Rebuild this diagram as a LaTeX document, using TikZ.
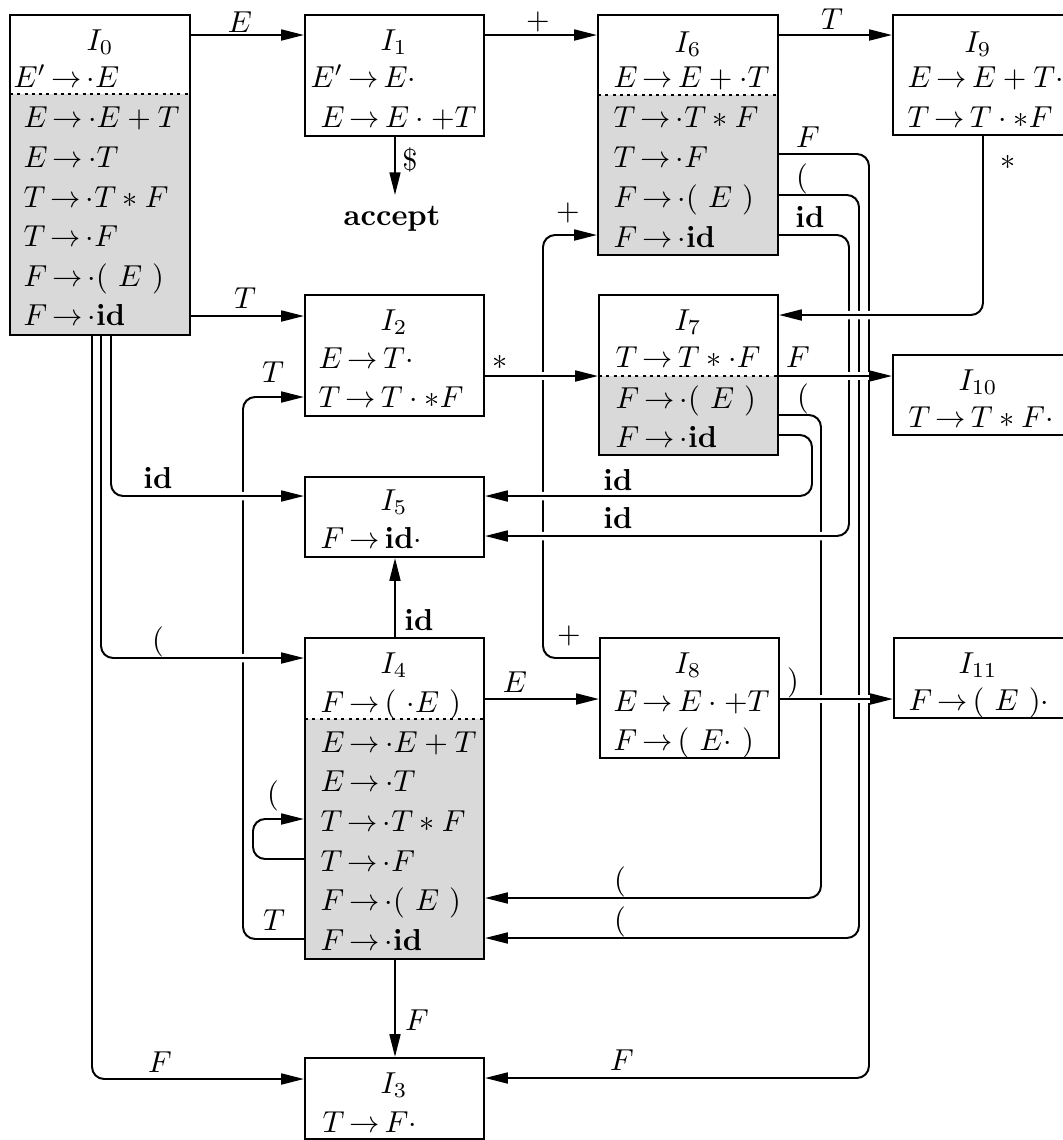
\documentclass[tikz,border=0pt]{standalone}
\usetikzlibrary{arrows.meta,backgrounds,fit}
\thickmuskip=3mu plus 2mu
\newcommand{\pgap}{\mskip6mu}
\begin{document}
\begin{tikzpicture}[x=0.33pt,y=-0.33pt,
  box/.style={draw, line width=0.7pt, inner sep=0pt},
  grayfill/.style={fill=gray!30},
  divider/.style={line width=0.6pt, dash pattern=on 1pt off 1.4pt},
  row/.style={anchor=base west, inner sep=0pt},
  ttl/.style={anchor=base, inner sep=0pt},
  lbl/.style={inner sep=0pt},
  sit/.style={inner sep=0pt, anchor=south},
  conn/.style={line width=0.65pt, rounded corners=4pt, -{Triangle[length=7.5pt,width=3.6pt]}},
  cut/.style={preaction={draw=white, line width=2.8pt, arrows=-}},
]
\useasboundingbox (0,0) rectangle (1063,1140);

% ---------- I0 ----------
\fill[grayfill] (10,94) rectangle (190,335);
\draw[divider] (10,94) -- (190,94);
\node[box, fit={(10,15)(190,335)}] (I0) {};
\node[ttl] (I0t) at (100,50) {$I_0$};
\node[row] (I0a) at (13,87) {$E'\to\cdot E$};
\node[row] (I0b) at (23,127) {$E\to\cdot E+T$};
\node[row] (I0c) at (23,167) {$E\to\cdot T$};
\node[row] (I0d) at (23,207) {$T\to\cdot T*F$};
\node[row] (I0e) at (23,246) {$T\to\cdot F$};
\node[row] (I0f) at (23,286) {$F\to\cdot(\pgap E\pgap)$};
\node[row] (I0g) at (23,325) {$F\to\cdot\mathbf{id}$};

% ---------- I1 ----------
\node[box, fit={(305,15)(484,136)}] (I1) {};
\node[ttl] (I1t) at (394,50) {$I_1$};
\node[row] (I1a) at (310,87) {$E'\to E\cdot$};
\node[row] (I1b) at (320,127) {$E\to E\cdot+T$};
\node[ttl] (acc) at (392,225) {\textbf{accept}};
\coordinate (acctip) at (395,195);

% ---------- I6 ----------
\fill[grayfill] (598,95) rectangle (778,255);
\draw[divider] (598,95) -- (778,95);
\node[box, fit={(598,15)(778,255)}] (I6) {};
\node[ttl] (I6t) at (688,52) {$I_6$};
\node[row] (I6a) at (613,87) {$E\to E+\cdot T$};
\node[row] (I6b) at (613,127) {$T\to\cdot T*F$};
\node[row] (I6c) at (613,167) {$T\to\cdot F$};
\node[row] (I6d) at (613,207) {$F\to\cdot(\pgap E\pgap)$};
\node[row] (I6e) at (613,247) {$F\to\cdot\mathbf{id}$};

% ---------- I9 ----------
\node[box, fit={(893,15)(1066,135)}] (I9) {};
\node[ttl] (I9t) at (978,52) {$I_9$};
\node[row] (I9a) at (907,87) {$E\to E+T\cdot$};
\node[row] (I9b) at (907,127) {$T\to T\cdot*F$};

% ---------- I2 ----------
\node[box, fit={(305,295)(484,416)}] (I2) {};
\node[ttl] (I2t) at (394,330) {$I_2$};
\node[row] (I2a) at (318,368) {$E\to T\cdot$};
\node[row] (I2b) at (318,407) {$T\to T\cdot*F$};

% ---------- I7 ----------
\fill[grayfill] (599,376) rectangle (778,455);
\draw[divider] (599,376) -- (778,376);
\node[box, fit={(599,295)(778,455)}] (I7) {};
\node[ttl] (I7t) at (688,330) {$I_7$};
\node[row] (I7a) at (615,367) {$T\to T*\cdot F$};
\node[row] (I7b) at (615,408) {$F\to\cdot(\pgap E\pgap)$};
\node[row] (I7c) at (615,447) {$F\to\cdot\mathbf{id}$};

% ---------- I10 ----------
\node[box, fit={(893,355)(1066,435)}] (I10) {};
\node[ttl] (I10t) at (978,390) {$I_{10}$};
\node[row] (I10a) at (908,427) {$T\to T*F\cdot$};

% ---------- I5 ----------
\node[box, fit={(305,477)(484,557)}] (I5) {};
\node[ttl] (I5t) at (394,510) {$I_5$};
\node[row] (I5a) at (320,548) {$F\to\mathbf{id}\cdot$};

% ---------- I4 ----------
\fill[grayfill] (305,719) rectangle (484,959);
\draw[divider] (305,719) -- (484,719);
\node[box, fit={(305,638)(484,959)}] (I4) {};
\node[ttl] (I4t) at (394,673) {$I_4$};
\node[row] (I4a) at (320,712) {$F\to(\pgap\cdot E\pgap)$};
\node[row] (I4b) at (320,752) {$E\to\cdot E+T$};
\node[row] (I4c) at (320,791) {$E\to\cdot T$};
\node[row] (I4d) at (320,831) {$T\to\cdot T*F$};
\node[row] (I4e) at (320,871) {$T\to\cdot F$};
\node[row] (I4f) at (320,910) {$F\to\cdot(\pgap E\pgap)$};
\node[row] (I4g) at (320,950) {$F\to\cdot\mathbf{id}$};

% ---------- I8 ----------
\node[box, fit={(600,638)(779,758)}] (I8) {};
\node[ttl] (I8t) at (688,673) {$I_8$};
\node[row] (I8a) at (613,711) {$E\to E\cdot+T$};
\node[row] (I8b) at (613,750) {$F\to(\pgap E\cdot\pgap)$};

% ---------- I11 ----------
\node[box, fit={(894,638)(1066,718)}] (I11) {};
\node[ttl] (I11t) at (978,673) {$I_{11}$};
\node[row] (I11a) at (908,710) {$F\to(\pgap E\pgap)\cdot$};

% ---------- I3 ----------
\node[box, fit={(305,1058)(484,1139)}] (I3) {};
\node[ttl] (I3t) at (394,1093) {$I_3$};
\node[row] (I3a) at (322,1132) {$T\to F\cdot$};

% ---------- connectors ----------
\begin{pgfonlayer}{background}
\draw[conn] (I8.west |- 0,658) -- (543,658) -- (543,235) -- (I6.west |- 0,235);
\draw[conn] (I4.west |- 0,939) -- (243,939) -- (243,397) -- (I2.west |- 0,397);
\draw[conn] (I4.west |- 0,859) -- (253,859) -- (253,819) -- (I4.west |- 0,819);
\draw[conn] (I0.east |- 0,35) -- (I1.west |- 0,35);
\draw[conn] (I1.east |- 0,35) -- (I6.west |- 0,35);
\draw[conn] (I6.east |- 0,35) -- (I9.west |- 0,35);
\draw[conn] (I1.south -| acctip) -- (acctip);
\draw[conn] (I0.east |- 0,316) -- (I2.west |- 0,316);
\draw[conn] (I4.north -| 395,0) -- (I5.south -| 395,0);
\draw[conn] (I4.east |- 0,699) -- (I8.west |- 0,699);
\draw[conn] (I4.south -| 395,0) -- (I3.north -| 395,0);
\draw[conn] (I0.south -| 92,0) -- (92,1079) -- (I3.west |- 0,1079);
\draw[conn,cut] (I7.east |- 0,435) -- (812,435) -- (812,496) -- (I5.east |- 0,496);
\draw[conn] (I7.east |- 0,415) -- (821,415) -- (821,898) -- (I4.east |- 0,898);
\draw[conn,cut] (I6.east |- 0,235) -- (849,235) -- (849,536) -- (I5.east |- 0,536);
\draw[conn] (I6.east |- 0,195) -- (859,195) -- (859,938) -- (I4.east |- 0,938);
\draw[conn] (I6.east |- 0,154) -- (869,154) -- (869,1078) -- (I3.east |- 0,1078);
\draw[conn,cut] (I9.south -| 983,0) -- (983,315) -- (I7.east |- 0,315);
\draw[conn,cut] (I7.east |- 0,376) -- (I10.west |- 0,376);
\draw[conn,cut] (I2.east |- 0,376) -- (I7.west |- 0,376);
\draw[conn,cut] (I8.east |- 0,699) -- (I11.west |- 0,699);
\draw[conn,cut] (I0.south -| 111,0) -- (111,496) -- (I5.west |- 0,496);
\draw[conn,cut] (I0.south -| 101,0) -- (101,658) -- (I4.west |- 0,658);
\end{pgfonlayer}

% ---------- labels ----------
\node[lbl] (lE01) at (240,22) {$E$};
\node[lbl] (lP16) at (538,22) {$+$};
\node[lbl] (lT69) at (832,19) {$T$};
\node[lbl] (lDol) at (410,160) {\$};
\node[lbl] (lT02) at (245,298) {$T$};
\node[lbl] (lS27) at (500,362) {$*$};
\node[lbl] (lF710) at (798,357) {$F$};
\node[lbl] (lS97) at (1008,162) {$*$};
\node[lbl] (lF6) at (808,137) {$F$};
\node[sit] (lP6) at (802,195) {$($};
\node[lbl] (lid6) at (810,217) {$\mathbf{id}$};
\node[lbl] (lF3r) at (622,1060) {$F$};
\node[sit] (lP4a) at (620,898) {$($};
\node[sit] (lP4b) at (620,938) {$($};
\node[lbl] (lid5a) at (618,480) {$\mathbf{id}$};
\node[lbl] (lid5b) at (618,518) {$\mathbf{id}$};
\node[sit] (lP7) at (803,415) {$($};
\node[lbl] (lid05) at (158,478) {$\mathbf{id}$};
\node[sit] (lP04) at (158,658) {$($};
\node[lbl] (lF03) at (160,1062) {$F$};
\node[lbl] (lid45) at (419,620) {$\mathbf{id}$};
\node[lbl] (lE48) at (515,682) {$E$};
\node[sit] (lPloop) at (273,812) {$($};
\node[lbl] (lT42a) at (274,920) {$T$};
\node[lbl] (lT42b) at (273,372) {$T$};
\node[lbl] (lF43) at (417,1020) {$F$};
\node[lbl] (lP86a) at (569,636) {$+$};
\node[lbl] (lP86b) at (568,213) {$+$};
\node[sit] (lR811) at (793,699) {$)$};
\end{tikzpicture}
\end{document}
